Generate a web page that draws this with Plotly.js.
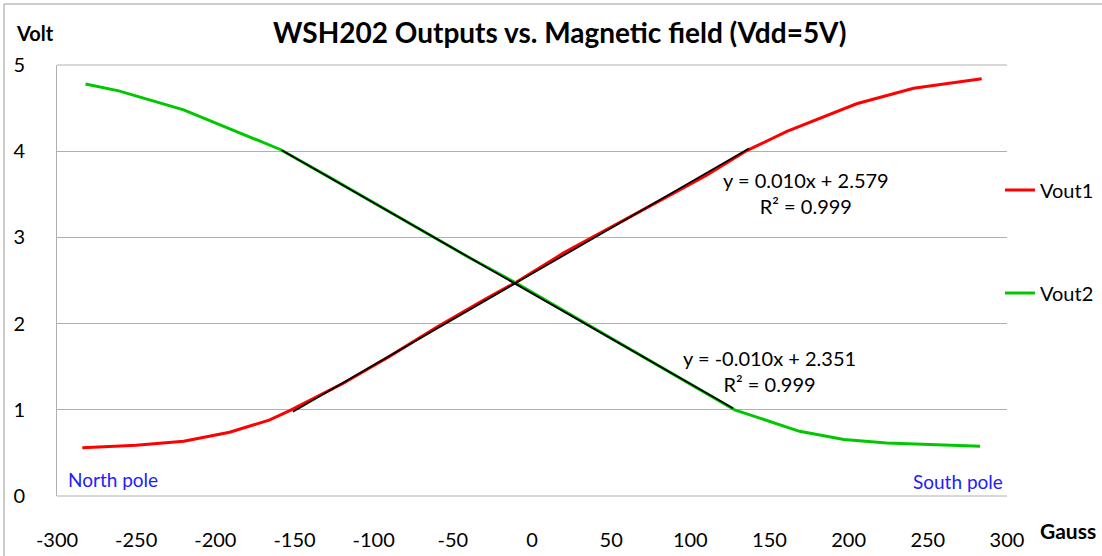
<!DOCTYPE html>
<html>
<head>
<meta charset="utf-8">
<script src="https://cdn.plot.ly/plotly-3.0.1.min.js"></script>
<style>html,body{margin:0;padding:0;background:#fff;}#chart{width:1102px;height:556px;}</style>
</head>
<body>
<div id="chart"></div>
<script>
// ---- data ----
const gauss1 = [-284, -250, -220, -191, -166, -153, -120, -90, -60, -30, -10, 20, 50, 80, 110, 136, 161, 205, 241, 284];
const vout1  = [0.56, 0.59, 0.635, 0.74, 0.88, 0.99, 1.30, 1.62, 1.96, 2.28, 2.48, 2.82, 3.12, 3.42, 3.72, 4.01, 4.23, 4.55, 4.73, 4.84];
const gauss2 = [-282, -261, -220, -188, -159, -130, -100, -70, -40, -10, 20, 50, 80, 105, 128, 169, 197, 224, 283];
const vout2  = [4.78, 4.70, 4.48, 4.24, 4.02, 3.72, 3.40, 3.08, 2.77, 2.47, 2.15, 1.83, 1.51, 1.25, 1.00, 0.75, 0.655, 0.615, 0.577];
// linear trend lines: [slope, intercept] and x-span
const fit1 = [0.0106, 2.579];
const fitSpan1 = [-151, 137];
const fit2 = [-0.0105, 2.351];
const fitSpan2 = [-158, 127];
const eq1 = ["y = 0.010x + 2.579", "R² = 0.999"];
const eq2 = ["y = -0.010x + 2.351", "R² = 0.999"];
const xTicks = [-300, -250, -200, -150, -100, -50, 0, 50, 100, 150, 200, 250, 300];
const yTicks = [0, 1, 2, 3, 4, 5];

const FONT = "Lato, 'Open Sans', sans-serif";
const line = (span, c) => span.map(x => c[0] * x + c[1]);

const traces = [
  {x: gauss1, y: vout1, mode: 'lines', name: 'Vout1', legendgroup: 'a',
   line: {color: '#ff0000', width: 3}},
  {x: gauss2, y: vout2, mode: 'lines', name: 'Vout2', legendgroup: 'b',
   line: {color: '#00c800', width: 3}},
  {x: fitSpan1, y: line(fitSpan1, fit1), mode: 'lines', showlegend: false,
   line: {color: '#000000', width: 1.8}},
  {x: fitSpan2, y: line(fitSpan2, fit2), mode: 'lines', showlegend: false,
   line: {color: '#000000', width: 1.8}}
];

const layout = {
  width: 1102, height: 556,
  margin: {l: 57, r: 95, t: 65, b: 60, autoexpand: false},
  paper_bgcolor: '#ffffff', plot_bgcolor: '#ffffff',
  font: {family: FONT, size: 20, color: '#000'},
  title: {text: '<b>WSH202 Outputs vs. Magnetic field (Vdd=5V)</b>', x: 0.508, xanchor: 'center', y: 0.94, yanchor: 'middle',
          font: {family: FONT, size: 28, color: '#000'}},
  showlegend: true,
  legend: {x: 0.9926, xanchor: 'left', y: 0.755, yanchor: 'top', tracegroupgap: 74,
           font: {family: FONT, size: 20, color: '#000'}, bgcolor: 'rgba(0,0,0,0)', itemwidth: 30},
  xaxis: {range: [-300, 300], tickvals: xTicks, ticktext: xTicks.map(String), showgrid: false, zeroline: false,
          showline: false, ticks: '', ticklabelstandoff: 30, tickfont: {family: FONT, size: 20}, fixedrange: true},
  yaxis: {range: [0, 5], tickvals: yTicks, ticktext: yTicks.map(String), showgrid: true, gridcolor: '#b0b0b0', gridwidth: 1,
          zeroline: false, showline: true, linecolor: '#b0b0b0', linewidth: 1, ticks: '', ticklabelstandoff: 27,
          tickfont: {family: FONT, size: 20}, fixedrange: true},
  shapes: [
    {type: 'line', xref: 'paper', yref: 'paper', x0: 0, x1: 1, y0: 0, y1: 0, line: {color: '#b0b0b0', width: 1}},
    {type: 'line', xref: 'paper', yref: 'paper', x0: 0, x1: 1, y0: 1, y1: 1, line: {color: '#b0b0b0', width: 1}},
    {type: 'line', xref: 'paper', yref: 'paper', x0: -53/950, x1: -53/950, y0: -60/431, y1: 1 + 61/431, line: {color: '#999', width: 1}},
    {type: 'line', xref: 'paper', yref: 'paper', x0: -53/950, x1: 1 + 95/950, y0: 1 + 61/431, y1: 1 + 61/431, line: {color: '#999', width: 1}}
  ],
  annotations: [
    {text: '<b>Volt</b>', xref: 'paper', yref: 'paper', x: -43/950, y: 1 + 32/431, xanchor: 'left', yanchor: 'middle', showarrow: false,
     font: {family: FONT, size: 20}},
    {text: '<b>Gauss</b>', xref: 'paper', yref: 'paper', x: 1 + 91/950, y: -34/431, xanchor: 'right', yanchor: 'middle', showarrow: false,
     font: {family: FONT, size: 21}},
    {text: 'North pole', xref: 'paper', yref: 'paper', x: 9/950, y: 17/431, xanchor: 'left', yanchor: 'middle', showarrow: false,
     font: {family: FONT, size: 19, color: '#2020ff'}},
    {text: 'South pole', xref: 'paper', yref: 'paper', x: 1 - 2/950, y: 15/431, xanchor: 'right', yanchor: 'middle', showarrow: false,
     font: {family: FONT, size: 19, color: '#2020ff'}},
    {text: eq1[0] + '<br>' + eq1[1], x: 173, y: 3.52, xref: 'x', yref: 'y', showarrow: false, align: 'center',
     font: {family: FONT, size: 20}},
    {text: eq2[0] + '<br>' + eq2[1], x: 150, y: 1.447, xref: 'x', yref: 'y', showarrow: false, align: 'center',
     font: {family: FONT, size: 20}}
  ]
};

Plotly.newPlot('chart', traces, layout, {staticPlot: true, displayModeBar: false});
</script>
</body>
</html>
